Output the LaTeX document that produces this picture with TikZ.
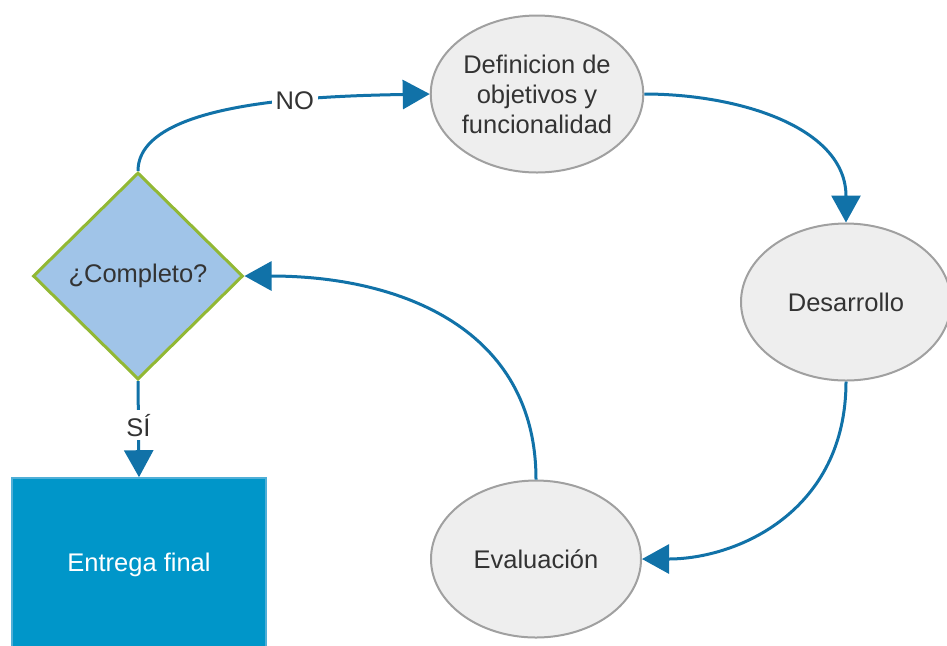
\documentclass[tikz,border=0pt]{standalone}
\usepackage{fontspec}
\setmainfont{Liberation Sans}
\usetikzlibrary{shapes.geometric,arrows.meta}
\definecolor{flowblue}{RGB}{17,114,168}
\definecolor{nodegray}{RGB}{238,238,238}
\definecolor{edgegray}{RGB}{160,160,160}
\definecolor{diafill}{RGB}{160,196,232}
\definecolor{diaedge}{RGB}{146,184,52}
\definecolor{boxblue}{RGB}{0,150,201}
\definecolor{boxedge}{RGB}{80,175,215}
\definecolor{txtgray}{RGB}{51,51,51}

\begin{document}
\begin{tikzpicture}[x=0.5pt,y=-0.5pt,
    every node/.style={font=\fontsize{12.75}{15}\selectfont, text=txtgray},
    etapa/.style={ellipse, draw=edgegray, line width=1pt, fill=nodegray, minimum width=105pt, minimum height=78.5pt, inner sep=0pt, align=center},
    flecha/.style={draw=flowblue, line width=1.5pt, -{Triangle[length=13.5pt,width=14.5pt]}},
    etiqueta/.style={fill=white, inner sep=2pt}]
    \useasboundingbox (0,0) rectangle (947,645);
    % etapas del ciclo
    \node[etapa] (def) at (537,94) {Definicion de\\objetivos y\\funcionalidad};
    \node[etapa] (des) at (846,302) {Desarrollo};
    \node[etapa] (eva) at (536,559) {Evaluación};
    \node[diamond, draw=diaedge, line width=1.5pt, fill=diafill, minimum width=105pt, minimum height=103.5pt, inner sep=0pt] (dia) at (138,276) {¿Completo?};
    \node[rectangle, fill=boxblue, draw=boxedge, line width=0.8pt, minimum width=127pt, minimum height=87pt, text=white] (ent) at (139,565) {Entrega final};
    % flechas
    \draw[flecha] (dia.north) .. controls +(0,-70) and +(-110,2) .. (def.west) node[etiqueta, pos=0.64] {NO};
    \draw[flecha] (def.east) .. controls +(95,0) and +(0,-95) .. (des.north);
    \draw[flecha] (des.south) .. controls +(0,130) and +(95,0) .. (eva.east);
    \draw[flecha] (eva.north) .. controls +(0,-150) and +(157,0) .. (dia.east);
    \draw[flecha] (dia.south) -- (ent.north) node[etiqueta, pos=0.46] {SÍ};
\end{tikzpicture}
\end{document}
